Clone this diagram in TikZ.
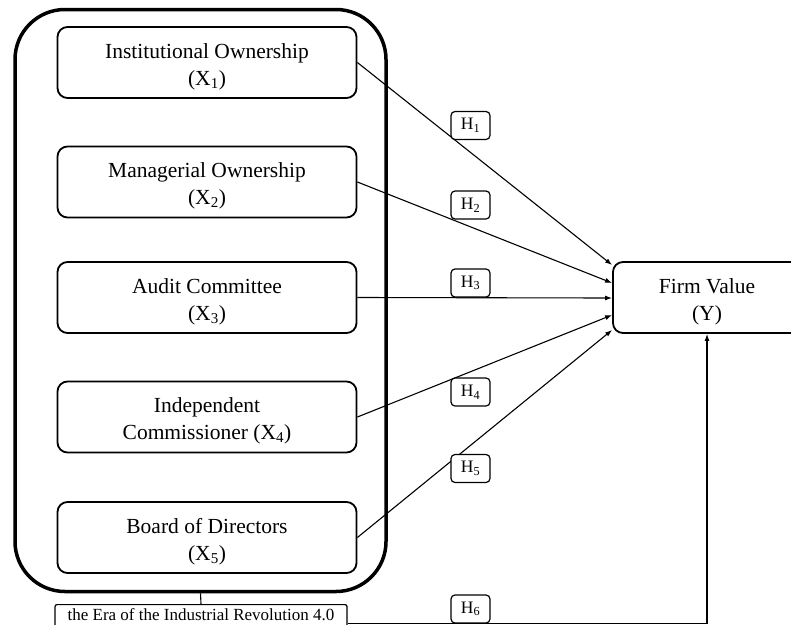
\documentclass[tikz,border=0pt]{standalone}
\usepackage{fontspec}
\setmainfont{Liberation Serif}
\usetikzlibrary{arrows.meta}
\begin{document}
\begin{tikzpicture}[x=1pt,y=-1pt,
  varbox/.style={draw,line width=1.8pt,rounded corners=10pt,minimum width=299pt,minimum height=71pt,align=center,font=\fontsize{21.5}{27}\selectfont,inner sep=0pt,text height=50pt,text depth=5pt},
  hbox/.style={draw,line width=1.2pt,rounded corners=4pt,minimum width=39pt,minimum height=28pt,inner sep=0pt,font=\fontsize{17.5}{19}\selectfont},
  link/.style={line width=1.1pt,-{Latex[length=7pt,width=5pt]}},
  plain/.style={line width=1.1pt}
]
\useasboundingbox (0,0) rectangle (791,624);
\clip (0,0) rectangle (791,624);
\fill[white] (0,0) rectangle (791,624);

\node[draw,line width=3.5pt,rounded corners=50pt,minimum width=371pt,minimum height=582pt,inner sep=0pt] (outer) at (200.5,300.5) {};

\node[varbox] (x1) at (207,62.5) {Institutional Ownership\\(X\textsubscript{1})};
\node[varbox] (x2) at (207,182) {Managerial Ownership\\(X\textsubscript{2})};
\node[varbox] (x3) at (207,297.5) {Audit Committee\\(X\textsubscript{3})};
\node[varbox] (x4) at (207,417) {Independent\\Commissioner (X\textsubscript{4})};
\node[varbox] (x5) at (207,537.5) {Board of Directors\\(X\textsubscript{5})};

\node[varbox,minimum width=188pt] (fv) at (707,297.5) {Firm Value\\(Y)};

\path (fv.west) ++(0,-32.5) coordinate (t1);
\path (fv.west) ++(0,-14.5) coordinate (t2);
\path (fv.west) ++(0,0.5) coordinate (t3);
\path (fv.west) ++(0,17.5) coordinate (t4);
\path (fv.west) ++(0,32.5) coordinate (t5);

\draw[link] (x1.east) -- (t1);
\draw[link] (x2.east) -- (t2);
\draw[link] (x3.east) -- (t3);
\draw[link] (x4.east) -- (t4);
\draw[link] (x5.east) -- (t5);

\node[hbox,fill=white] (h1) at (470.5,125.5) {H\textsubscript{1}};
\node[hbox,fill=white] (h2) at (470.5,205) {H\textsubscript{2}};
\node[hbox,fill=white] (h3) at (470.5,283) {H\textsubscript{3}};
\node[hbox,fill=white] (h4) at (470.5,392) {H\textsubscript{4}};
\node[hbox,fill=white] (h5) at (470.5,468.5) {H\textsubscript{5}};
\node[hbox,fill=white] (h6) at (470.5,609) {H\textsubscript{6}};

\node[draw,line width=1.2pt,rounded corners=2pt,minimum width=292pt,anchor=north,inner xsep=2pt,inner ysep=4pt,text depth=18pt,font=\fontsize{17}{20}\selectfont] (era) at (201,604) {the Era of the Industrial Revolution 4.0};

\draw[plain] (outer.south) -- (era.north);
\coordinate (c6) at (fv.south |- era.east);
\draw[link] (era.east) -- (c6) -- (fv.south);
\end{tikzpicture}
\end{document}
